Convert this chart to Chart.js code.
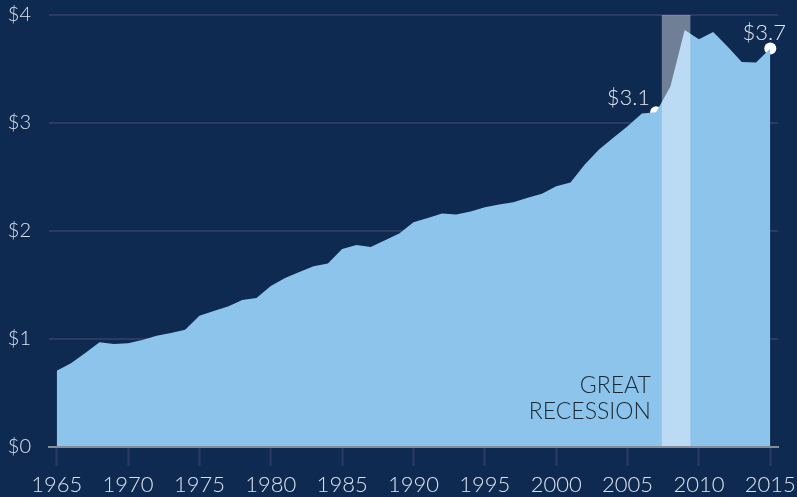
<!DOCTYPE html>
<html>
<head>
<meta charset="utf-8">
<script src="https://cdn.jsdelivr.net/npm/chart.js"></script>
<style>
  html, body { margin: 0; padding: 0; background: #0e2a50; }
  #mycanvas { display: block; }
</style>
</head>
<body>
<canvas id="mycanvas" width="797" height="497"></canvas>
<script>
// データ
const years = [
  1965, 1966, 1967, 1968, 1969, 1970, 1971, 1972, 1973, 1974,
  1975, 1976, 1977, 1978, 1979, 1980, 1981, 1982, 1983, 1984,
  1985, 1986, 1987, 1988, 1989, 1990, 1991, 1992, 1993, 1994,
  1995, 1996, 1997, 1998, 1999, 2000, 2001, 2002, 2003, 2004,
  2005, 2006, 2007, 2008, 2009, 2010, 2011, 2012, 2013, 2014, 2015
];
const values = [
  0.705, 0.776, 0.87, 0.97, 0.953, 0.96, 0.99, 1.03, 1.055, 1.085,
  1.215, 1.26, 1.30, 1.36, 1.38, 1.49, 1.565, 1.62, 1.673, 1.70,
  1.834, 1.871, 1.852, 1.914, 1.976, 2.081, 2.12, 2.161, 2.152, 2.18,
  2.22, 2.245, 2.266, 2.307, 2.344, 2.415, 2.45, 2.616, 2.755, 2.864,
  2.97, 3.089, 3.10, 3.337, 3.862, 3.776, 3.843, 3.708, 3.565, 3.56, 3.689
];
const xTicks = [1965, 1970, 1975, 1980, 1985, 1990, 1995, 2000, 2005, 2010, 2015];
const yTicks = [0, 1, 2, 3, 4];
const calloutYears = [2007, 2015];
const calloutLabels = ['$3.1', '$3.7'];
const recession = [2007.4, 2009.4];
const recessionLabel = ['GREAT', 'RECESSION'];

const FONT = 'Lato, "Open Sans", sans-serif';

// 折れ線の点を作る
const areaPoints = years.map((y, i) => ({ x: y, y: values[i] }));
const calloutPoints = calloutYears.map(y => ({ x: y, y: values[years.indexOf(y)] }));

// 不況の帯 (エリアの上に白を重ねる)
const bandPlugin = {
  id: 'band',
  afterDatasetDraw(chart, args) {
    if (args.index !== 0) return;
    const { ctx, chartArea, scales } = chart;
    const x0 = scales.x.getPixelForValue(recession[0]);
    const x1 = scales.x.getPixelForValue(recession[1]);
    ctx.save();
    ctx.fillStyle = 'rgba(255,255,255,0.4)';
    ctx.fillRect(x0, chartArea.top, x1 - x0, chartArea.bottom - chartArea.top);
    ctx.restore();
  }
};

// ラベル類
const labelPlugin = {
  id: 'labels',
  afterDatasetsDraw(chart) {
    const { ctx, chartArea, scales } = chart;
    const pts = chart.getDatasetMeta(1).data;
    ctx.save();
    ctx.font = '300 22px ' + FONT;
    ctx.fillStyle = '#e4e9f1';
    ctx.textBaseline = 'alphabetic';
    // $3.1
    ctx.textAlign = 'right';
    ctx.fillText(calloutLabels[0], pts[0].x - 6, pts[0].y - 7);
    // $3.7
    ctx.textAlign = 'center';
    ctx.fillText(calloutLabels[1], pts[1].x - 6, pts[1].y - 9);

    // GREAT RECESSION
    const bx = scales.x.getPixelForValue(recession[0]);
    ctx.font = '300 23px ' + FONT;
    ctx.fillStyle = '#1c2834';
    ctx.textAlign = 'right';
    ctx.fillText(recessionLabel[0], bx - 11, chartArea.bottom - 54);
    ctx.fillText(recessionLabel[1], bx - 11, chartArea.bottom - 28);
    ctx.restore();
  }
};

const ctx = document.querySelector('#mycanvas').getContext('2d');
const myChart = new Chart(ctx, {
  type: 'line',
  data: {
    datasets: [{
      data: areaPoints,
      fill: 'origin',
      backgroundColor: '#8cc4eb',
      borderWidth: 0,
      pointRadius: 0,
      tension: 0
    }, {
      data: calloutPoints,
      showLine: false,
      pointRadius: 6,
      pointBackgroundColor: '#ffffff',
      pointBorderWidth: 0
    }]
  },
  options: {
    responsive: false,
    animation: false,
    events: [],
    layout: { padding: { top: 15, right: 19, bottom: 0, left: 0 } },
    plugins: {
      legend: { display: false },
      tooltip: { enabled: false }
    },
    scales: {
      x: {
        type: 'linear',
        min: 1964.46,
        max: 2015.54,
        afterBuildTicks: scale => { scale.ticks = xTicks.map(v => ({ value: v })); },
        afterFit: scale => {
          scale.height = 50;
          scale.paddingLeft = 0;
          scale.paddingRight = 0;
        },
        grid: {
          drawOnChartArea: false,
          drawTicks: true,
          tickLength: 19,
          tickColor: '#2c3b64',
          tickWidth: 2
        },
        border: { display: true, color: '#858c98', width: 2, z: 1 },
        ticks: {
          color: '#dce2ec',
          font: { family: FONT, size: 22, weight: 300 },
          padding: 6,
          maxRotation: 0,
          autoSkip: false,
          callback: v => String(v)
        }
      },
      y: {
        min: 0,
        max: 4,
        afterBuildTicks: scale => { scale.ticks = yTicks.map(v => ({ value: v })); },
        afterFit: scale => {
          scale.width = 49;
          scale.paddingTop = 0;
          scale.paddingBottom = 0;
        },
        grid: {
          color: '#2c3b64',
          lineWidth: 2,
          drawTicks: false
        },
        border: { display: false },
        ticks: {
          color: '#dce2ec',
          font: { family: FONT, size: 20, weight: 300 },
          padding: 18,
          callback: v => '$' + v
        }
      }
    }
  },
  plugins: [bandPlugin, labelPlugin]
});
</script>
</body>
</html>
